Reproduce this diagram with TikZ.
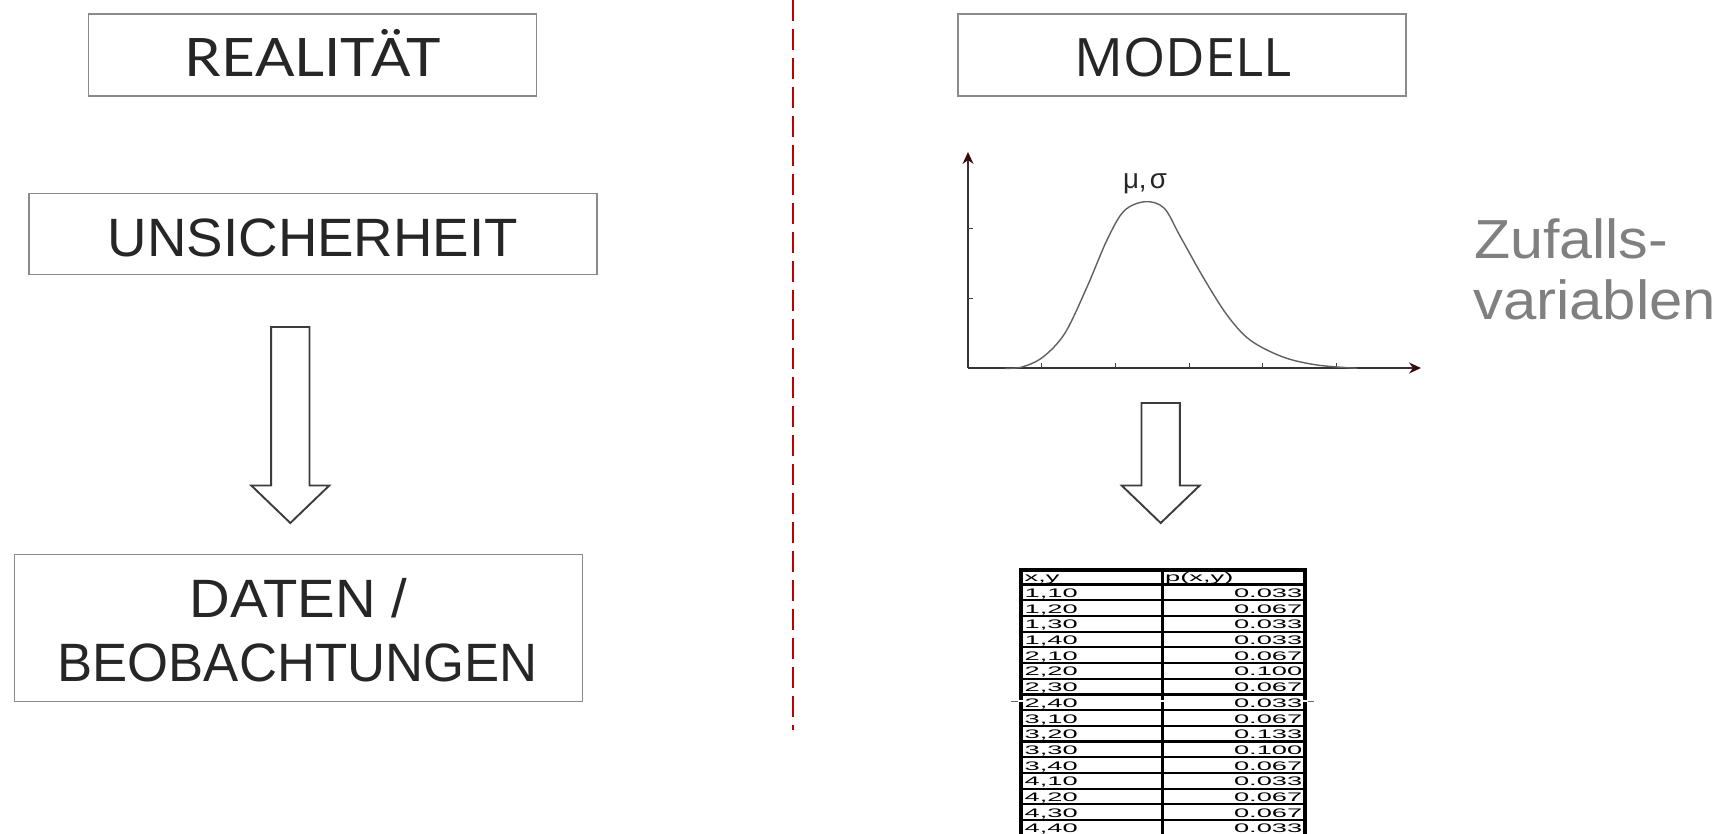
\documentclass[tikz,border=0pt]{standalone}
\usepackage{fontspec}
\usepackage{graphicx}
\setmainfont{Liberation Sans}
\newfontfamily\latofont{Lato}
\newfontfamily\opensansfont{Open Sans}
\newfontfamily\arialfont{Liberation Sans}
\usetikzlibrary{arrows.meta}

% text scaled to a given width (in pt), natural height kept
\newcommand{\wtext}[3]{\resizebox{#1pt}{\height}{#2#3}}
% table cell text, stretched horizontally
\newcommand{\cell}[1]{\scalebox{2.2}[1]{\arialfont\fontsize{12.4}{12.4}\selectfont #1}}

\definecolor{boxgray}{HTML}{8A8A8A}
\definecolor{inkdark}{HTML}{262626}
\definecolor{labelgray}{HTML}{808080}
\definecolor{sepred}{HTML}{C00000}
\definecolor{tipdark}{HTML}{3A0A0A}
\definecolor{curvegray}{HTML}{606060}

\begin{document}
\begin{tikzpicture}[x=1pt,y=-1pt,
  framebox/.style={draw=boxgray, line width=1.8pt, inner sep=0pt, fill=white},
  boxlabel/.style={anchor=base, inner sep=0pt, text=inkdark},
  arrowline/.style={draw=inkdark!90, line width=1.9pt, line join=miter, fill=white},
  sepline/.style={draw=sepred, line width=2.4pt, dash pattern=on 21pt off 8pt},
  axisline/.style={draw=black!80, line width=1.3pt},
  axistip/.style={-{Stealth[length=12pt, width=11pt, inset=4pt, color=tipdark, fill=tipdark]}},
  tickline/.style={draw=black!75, line width=1pt},
  bellcurve/.style={draw=curvegray, line width=1.4pt},
  tabline/.style={draw=black, line width=2.2pt},
  tabborder/.style={draw=black, line width=4pt},
  tabdiv/.style={draw=black, line width=3pt},
  celltext/.style={inner sep=0pt, text=black}
]
\useasboundingbox (0,0) rectangle (1726,833);

% ---------------- left column: reality ----------------
\node[framebox, minimum width=448pt, minimum height=82pt] (realbox) at (312.5,54.8) {};
\node[boxlabel] (realtxt) at (313,76)
  {\wtext{256}{\latofont\fontsize{53}{53}\selectfont}{REALITÄT}};

\node[framebox, minimum width=568pt, minimum height=81pt] (unsbox) at (312.6,233.9) {};
\node[boxlabel] (unstxt) at (313,256)
  {\wtext{410}{\arialfont\fontsize{54}{54}\selectfont}{UNSICHERHEIT}};

\node[framebox, minimum width=568pt, minimum height=147pt] (datbox) at (298.5,628) {};
\node[boxlabel] (dattxt) at (298.5,617.5)
  {\wtext{218}{\arialfont\fontsize{54}{54}\selectfont}{DATEN /}};
\node[boxlabel] (beotxt) at (297.6,681)
  {\wtext{480}{\arialfont\fontsize{54}{54}\selectfont}{BEOBACHTUNGEN}};

% hollow block arrow: centre x, top y, head base y, tip y
\newcommand{\blockarrow}[4]{%
  \draw[arrowline] (#1-19.2,#2) -- (#1+19.2,#2) -- (#1+19.2,#3) -- (#1+39,#3)
    -- (#1,#4) -- (#1-39,#3) -- (#1-19.2,#3) -- cycle;}
\blockarrow{290.3}{327}{485.5}{523}

% ---------------- separator ----------------
\coordinate (septop) at (793,0);
\coordinate (sepbot) at (793,730);
\draw[sepline] (septop) -- (sepbot);

% ---------------- right column: model ----------------
\node[framebox, minimum width=448pt, minimum height=82pt] (modbox) at (1182.3,54.8) {};
\node[boxlabel] (modtxt) at (1183,76)
  {\wtext{217}{\opensansfont\fontsize{53}{53}\selectfont}{MODELL}};

% density plot
\coordinate (origin) at (968,368);
\coordinate (ytop) at (968,152);
\coordinate (xend) at (1421,368);
\draw[axisline, axistip] (origin) -- (ytop);
\draw[axisline, axistip] (origin) -- (xend);
\foreach \tx in {1041.7,1115.7,1189,1262.3,1336.7}
  \draw[tickline] (\tx,368) -- (\tx,363);
\foreach \ty in {228.3,298.3}
  \draw[tickline] (968,\ty) -- (973,\ty);
\draw[bellcurve] plot[smooth, tension=0.55] coordinates {
  (1005,368.3) (1022,367) (1043,357) (1065,333) (1087,287) (1107,240)
  (1124,211) (1145,201.7) (1164,208) (1180,236) (1203,277) (1227,315)
  (1250,340) (1283,357) (1317,365) (1357,368.3)};
\node[boxlabel, text=black!85] (musig) at (1145,188)
  {\wtext{44}{\arialfont\fontsize{28}{28}\selectfont}{μ,\kern0.12em σ}};

\node[anchor=base west, inner sep=0pt, text=labelgray] (zuf1) at (1474,258)
  {\wtext{194}{\arialfont\fontsize{55}{55}\selectfont}{Zufalls-}};
\node[anchor=base west, inner sep=0pt, text=labelgray] (zuf2) at (1473,319)
  {\wtext{243}{\arialfont\fontsize{55}{55}\selectfont}{variablen}};

\blockarrow{1160.7}{403}{485.5}{523}

% probability table
\begin{scope}
\clip (0,0) rectangle (1726,833);
\foreach \k in {0,...,15}
  \draw[tabline] (1020.5,584.5+15.7*\k) -- (1305,584.5+15.7*\k);
\draw[tabborder] (1018.5,569.5) -- (1307,569.5);
\draw[tabborder] (1020.5,567.5) -- (1020.5,845);
\draw[tabborder] (1305,567.5) -- (1305,845);
\draw[tabdiv] (1162,569) -- (1162,845);

\node[celltext, anchor=base west] (hx) at (1024.5,581.7) {\cell{x,y}};
\node[celltext, anchor=base west] (hp) at (1165,581.7) {\cell{p(x,y)}};
\foreach \lab/\val [count=\i] in {{1,10}/0.033, {1,20}/0.067, {1,30}/0.033, {1,40}/0.033,
    {2,10}/0.067, {2,20}/0.100, {2,30}/0.067, {2,40}/0.033, {3,10}/0.067, {3,20}/0.133,
    {3,30}/0.100, {3,40}/0.067, {4,10}/0.033, {4,20}/0.067, {4,30}/0.067, {4,40}/0.033} {
  \node[celltext, anchor=base west] (xy\i) at (1024.5,581.7+15.7*\i) {\cell{\lab}};
  \node[celltext, anchor=base east] (pv\i) at (1302.5,581.7+15.7*\i) {\cell{\val}};
}
% thin stray rule through row 2,40
\draw[white, line width=1.2pt] (1018,701) -- (1023,701);
\draw[white, line width=1.2pt] (1160,701) -- (1164,701);
\draw[white, line width=1.2pt] (1302.5,701) -- (1307.5,701);
\draw[black!60, line width=0.9pt] (1011,701) -- (1018,701);
\draw[black!60, line width=0.9pt] (1307.5,701) -- (1314,701);
\end{scope}
\end{tikzpicture}
\end{document}
